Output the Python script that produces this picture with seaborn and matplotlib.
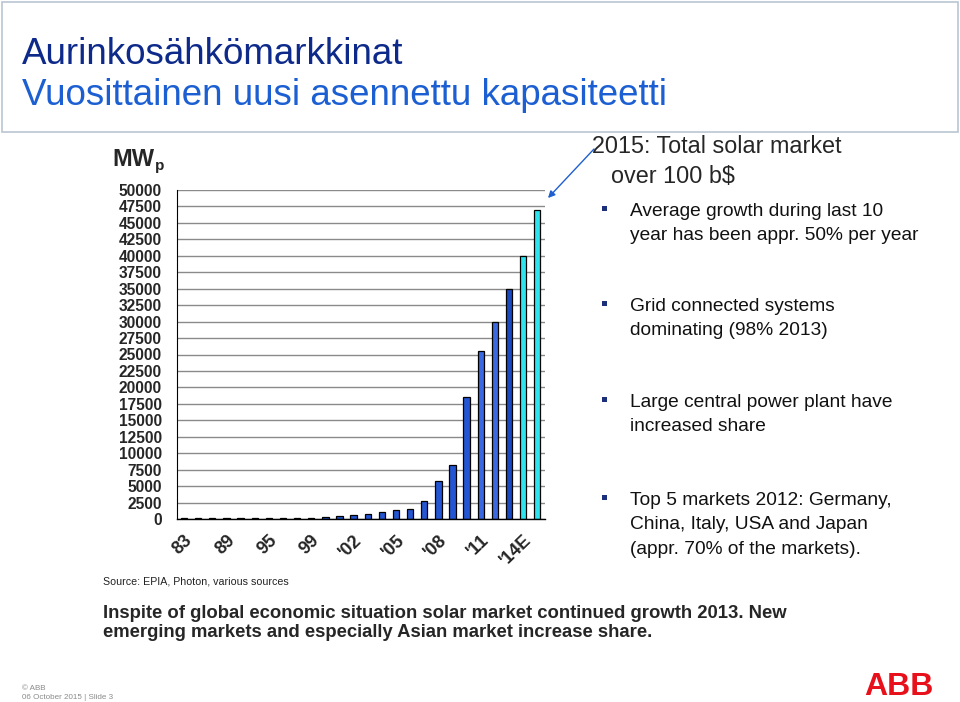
import matplotlib
matplotlib.use("Agg")
import matplotlib.pyplot as plt
import seaborn as sns
import pandas as pd
from matplotlib.patches import Rectangle
from matplotlib.lines import Line2D

# ---------------- data ----------------
years = ["83", "85", "87", "89", "91", "93", "95", "97", "98", "99", "00", "01", "02",
         "03", "04", "05", "06", "07", "08", "09", "10", "11", "12", "13", "14E", "15E"]
mw = [90, 95, 100, 105, 110, 115, 120, 160, 180, 210, 300, 400, 550,
      750, 1110, 1410, 1460, 2670, 5800, 8170, 18470, 25500, 30000, 35000, 40000, 47000]
shown_years = ["83", "89", "95", "99", "02", "05", "08", "11", "14E"]
shown_labels = ["83", "89", "95", "99", "'02", "'05", "'08", "'11", "'14E"]
y_ticks = list(range(0, 50001, 2500))

base_blue = "#2456d4"
bar_colors = [base_blue] * 21 + ["#3a68e2", "#3d69e0", "#1b49c0", "#30e4ee", "#30e4ee"]

title1 = "Aurinkosähkömarkkinat"
title2 = "Vuosittainen uusi asennettu kapasiteetti"
headline = ["2015: Total solar market", "over 100 b$"]
bullets = [
    ["Average growth during last 10", "year has been appr. 50% per year"],
    ["Grid connected systems", "dominating (98% 2013)"],
    ["Large central power plant have", "increased share"],
    ["Top 5 markets 2012: Germany,", "China, Italy, USA and Japan", "(appr. 70% of the markets)."],
]
source = "Source: EPIA, Photon, various sources"
bottom_text = ["Inspite of global economic situation solar market continued growth 2013. New",
               "emerging markets and especially Asian market increase share."]
footer = ["© ABB", "06 October 2015 | Slide 3"]

# ---------------- figure ----------------
sns.set_style("white")
plt.rcParams["font.family"] = ["Liberation Sans", "DejaVu Sans"]

W, H = 960, 702
fig = plt.figure(figsize=(W / 100, H / 100), dpi=100)


def fp(x, y):
    return x / W, 1 - y / H


# header box
fig.add_artist(Rectangle(fp(2, 132), 956 / W, 130 / H, transform=fig.transFigure,
                         fill=False, edgecolor="#b9c6d2", lw=1.2))
fig.text(*fp(22, 64), title1, fontsize=26.5, color="#0d2a8a", va="baseline", ha="left")
fig.text(*fp(22, 105), title2, fontsize=26.5, color="#1c5fd2", va="baseline", ha="left")

# ---------------- chart ----------------
left, right, top, bottom = 177, 545, 190, 519
ax = fig.add_axes([left / W, 1 - bottom / H, (right - left) / W, (bottom - top) / H])

df = pd.DataFrame({"year": years, "mw": mw})
sns.barplot(data=df, x="year", y="mw", hue="year", palette=bar_colors, legend=False,
            width=0.45, edgecolor="black", linewidth=0.9, saturation=1, ax=ax)

ax.set_ylim(0, 50000)
ax.set_xlim(-0.45, len(years) - 0.45)
ax.set_yticks(y_ticks)
ax.set_yticklabels([str(v) for v in y_ticks], fontsize=11.2, fontweight="bold")
ax.set_axisbelow(True)
ax.yaxis.grid(True, color="#8a8a8a", lw=1.0)
ax.xaxis.grid(False)

pos = [years.index(y) for y in shown_years]
ax.set_xticks(pos)
ax.set_xticklabels(shown_labels, rotation=44, ha="right", va="top",
                   rotation_mode="anchor", fontsize=13, fontweight="bold")
ax.set_xticks([i + 0.5 for i in range(-1, len(years))], minor=True)
ax.tick_params(axis="x", which="major", length=0, pad=9)
ax.tick_params(axis="x", which="minor", length=5, width=0.8, color="black", direction="out")
ax.tick_params(axis="y", length=5, width=0.8, color="black", direction="out", pad=6)
ax.set_xlabel("")
ax.set_ylabel("")
for s in ["top", "right"]:
    ax.spines[s].set_visible(False)
ax.spines["left"].set_color("black")
ax.spines["left"].set_linewidth(0.8)
ax.spines["bottom"].set_color("black")
ax.spines["bottom"].set_linewidth(1.0)

fig.text(*fp(112, 166), "MW", fontsize=17, fontweight="bold", va="baseline", ha="left")
fig.text(*fp(155, 170), "p", fontsize=11, fontweight="bold", va="baseline", ha="left")

# arrow
ax.annotate("", xy=fp(548, 198), xycoords="figure fraction",
            xytext=fp(594, 149), textcoords="figure fraction",
            arrowprops=dict(arrowstyle="-|>", color="#1f5fd0", lw=1.0,
                            mutation_scale=10, shrinkA=0, shrinkB=0))

# ---------------- right text ----------------
fig.text(*fp(592, 153), headline[0], fontsize=16.8, va="baseline", ha="left")
fig.text(*fp(611, 183), headline[1], fontsize=16.8, va="baseline", ha="left")

starts = [216, 311, 407, 505]
for start, lines in zip(starts, bullets):
    fig.add_artist(Rectangle(fp(602, start - 5), 5 / W, 5 / H, transform=fig.transFigure,
                             facecolor="#1b2f7a", edgecolor="none"))
    for k, line in enumerate(lines):
        fig.text(*fp(630, start + 24.3 * k), line, fontsize=13.8, color="#111111",
                 va="baseline", ha="left")

# ---------------- bottom text ----------------
fig.text(*fp(103, 585), source, fontsize=7.7, va="baseline", ha="left", color="#222222")
fig.text(*fp(103, 618), bottom_text[0], fontsize=13.3, fontweight="bold",
         va="baseline", ha="left")
fig.text(*fp(103, 637), bottom_text[1], fontsize=13.3, fontweight="bold",
         va="baseline", ha="left")

fig.text(*fp(22, 690), footer[0], fontsize=5.8, color="#8a8a8a", va="baseline", ha="left")
fig.text(*fp(22, 699), footer[1], fontsize=5.8, color="#8a8a8a", va="baseline", ha="left")

# ABB logo
fig.text(*fp(934, 695), "ABB", fontsize=23, fontweight="bold", color="#e8101a",
         va="baseline", ha="right")

fig.savefig("out.png", dpi=100)
